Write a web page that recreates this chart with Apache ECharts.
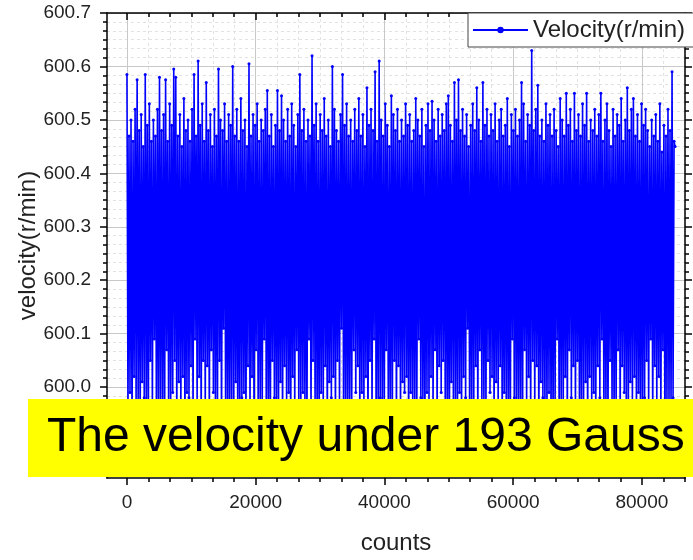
<!DOCTYPE html>
<html>
<head>
<meta charset="utf-8">
<script src="https://cdn.jsdelivr.net/npm/echarts@6/dist/echarts.min.js"></script>
<style>
  html, body { margin: 0; padding: 0; background: #fff; }
  #chart { width: 693px; height: 560px; }
</style>
</head>
<body>
<div id="chart"></div>
<script>
// counts axis
const X_MIN = -3100;
const X_MAX = 86700;
const X_TICKS = [0, 20000, 40000, 60000, 80000];
const COUNT_STEP = 158; // counts between two plotted samples

// velocity axis
const Y_MIN = 599.83;
const Y_MAX = 600.7;
const Y_TICKS = [599.9, 600.0, 600.1, 600.2, 600.3, 600.4, 600.5, 600.6, 600.7];
const MINOR_SPLIT = 6;

// velocity samples (r/min)
const VELOCITY = [
  600.585, 599.95, 600.47, 599.99, 600.50, 599.92, 600.46, 600.02, 600.52, 599.97,
  600.575, 599.97, 600.48, 599.93, 600.51, 600.01, 600.45, 599.98, 600.585, 599.96,
  600.49, 599.91, 600.53, 600.05, 600.46, 599.96, 600.50, 600.09, 600.47, 599.94,
  600.52, 599.93, 600.58, 599.97, 600.48, 599.97, 600.51, 599.90, 600.575, 600.07,
  600.46, 599.95, 600.53, 599.96, 600.49, 599.99, 600.595, 600.05, 600.58, 599.93,
  600.47, 600.01, 600.51, 599.96, 600.45, 600.02, 600.54, 599.92, 600.48, 599.99,
  600.50, 599.98, 600.46, 600.04, 600.52, 599.94, 600.585, 600.09, 600.47, 599.97,
  600.61, 600.02, 600.49, 599.91, 600.53, 600.05, 600.46, 599.96, 600.57, 600.04,
  600.48, 599.93, 600.51, 600.07, 600.45, 599.99, 600.52, 599.96, 600.47, 599.95,
  600.595, 600.05, 600.50, 599.92, 600.48, 600.11, 600.53, 599.97, 600.46, 599.93,
  600.51, 599.94, 600.49, 599.97, 600.60, 599.96, 600.47, 600.01, 600.52, 599.90,
  600.46, 599.96, 600.54, 599.98, 600.48, 599.99, 600.50, 599.93, 600.45, 600.04,
  600.605, 599.95, 600.47, 600.02, 600.51, 599.91, 600.49, 600.07, 600.53, 599.97,
  600.46, 599.97, 600.50, 599.94, 600.48, 600.09, 600.52, 599.96, 600.555, 599.93,
  600.47, 599.92, 600.51, 600.05, 600.45, 599.98, 600.49, 599.96, 600.555, 599.95,
  600.48, 600.01, 600.545, 599.93, 600.50, 600.04, 600.46, 599.97, 600.52, 599.99,
  600.47, 599.90, 600.53, 600.02, 600.49, 599.96, 600.45, 600.07, 600.51, 599.94,
  600.585, 599.97, 600.48, 599.99, 600.52, 599.96, 600.46, 599.92, 600.50, 600.09,
  600.47, 599.95, 600.62, 600.05, 600.49, 599.97, 600.53, 599.93, 600.46, 599.93,
  600.51, 599.99, 600.48, 599.96, 600.54, 600.04, 600.47, 599.91, 600.50, 600.01,
  600.45, 599.98, 600.60, 600.02, 600.52, 599.94, 600.48, 600.05, 600.46, 599.97,
  600.51, 600.11, 600.585, 599.95, 600.49, 599.96, 600.53, 599.92, 600.47, 599.97,
  600.50, 599.96, 600.46, 600.07, 600.52, 599.99, 600.48, 600.04, 600.54, 599.93,
  600.47, 599.99, 600.51, 599.97, 600.45, 600.02, 600.56, 599.90, 600.49, 600.05,
  600.52, 599.95, 600.48, 600.09, 600.59, 599.94, 600.46, 599.96, 600.61, 599.98,
  600.50, 599.97, 600.47, 599.92, 600.53, 600.07, 600.49, 599.96, 600.45, 599.93,
  600.545, 599.97, 600.51, 600.05, 600.48, 599.93, 600.52, 600.04, 600.46, 599.95,
  600.50, 600.01, 600.47, 599.99, 600.53, 600.02, 600.49, 599.91, 600.51, 599.99,
  600.46, 599.96, 600.48, 599.96, 600.54, 599.94, 600.50, 600.09, 600.47, 599.98,
  600.52, 599.97, 600.45, 599.92, 600.49, 599.99, 600.53, 599.97, 600.48, 600.02,
  600.535, 599.95, 600.50, 600.07, 600.46, 599.93, 600.52, 600.04, 600.47, 599.99,
  600.51, 600.05, 600.48, 599.96, 600.53, 599.93, 600.545, 599.90, 600.49, 600.01,
  600.46, 599.97, 600.57, 599.96, 600.50, 599.94, 600.575, 599.99, 600.48, 599.95,
  600.52, 600.02, 600.47, 599.98, 600.51, 600.11, 600.45, 599.93, 600.49, 599.97,
  600.53, 599.96, 600.48, 600.04, 600.56, 599.92, 600.50, 600.07, 600.46, 599.97,
  600.57, 599.96, 600.49, 599.95, 600.52, 600.05, 600.47, 599.99, 600.51, 600.02,
  600.48, 599.94, 600.53, 600.01, 600.46, 599.97, 600.50, 600.04, 600.52, 599.91,
  600.47, 599.99, 600.49, 599.96, 600.54, 599.93, 600.45, 599.93, 600.51, 600.09,
  600.48, 599.98, 600.52, 599.97, 600.47, 599.95, 600.50, 599.96, 600.57, 599.92,
  600.53, 600.07, 600.46, 599.97, 600.51, 600.02, 600.49, 599.94, 600.63, 600.05,
  600.48, 599.96, 600.52, 600.04, 600.565, 599.91, 600.47, 600.01, 600.50, 599.98,
  600.46, 599.96, 600.53, 599.95, 600.49, 599.99, 600.51, 599.93, 600.47, 599.93,
  600.52, 599.97, 600.48, 600.09, 600.45, 599.94, 600.54, 599.97, 600.50, 599.96,
  600.47, 600.02, 600.55, 599.92, 600.49, 600.07, 600.52, 599.98, 600.46, 600.04,
  600.55, 599.95, 600.48, 600.05, 600.51, 599.93, 600.47, 599.96, 600.53, 599.97,
  600.49, 600.01, 600.55, 599.91, 600.46, 600.02, 600.50, 599.96, 600.48, 599.99,
  600.52, 599.94, 600.47, 600.04, 600.51, 599.98, 600.55, 600.09, 600.46, 599.95,
  600.50, 599.96, 600.53, 599.92, 600.48, 600.05, 600.45, 599.97, 600.52, 599.93,
  600.47, 599.96, 600.51, 600.07, 600.49, 599.93, 600.54, 600.04, 600.46, 599.99,
  600.50, 599.97, 600.56, 599.94, 600.48, 600.01, 600.52, 599.97, 600.54, 600.02,
  600.47, 599.95, 600.51, 599.99, 600.46, 599.92, 600.53, 599.96, 600.49, 599.98,
  600.52, 600.05, 600.48, 599.96, 600.45, 600.09, 600.50, 599.93, 600.47, 600.04,
  600.51, 599.97, 600.46, 600.02, 600.53, 599.95, 600.44, 600.07, 600.49, 599.91,
  600.47, 599.97, 600.52, 599.96, 600.48, 599.96, 600.59, 599.98, 600.46, 600.45
];

const FONT = 'Liberation Sans, Arial, sans-serif';
const BLUE = '#0000ff';

// minor tick positions between (and around) the major ones
function minorValues(ticks, min, max) {
  const step = (ticks[1] - ticks[0]) / MINOR_SPLIT;
  const out = [];
  for (let k = -MINOR_SPLIT * 2; k <= ticks.length * MINOR_SPLIT + MINOR_SPLIT; k++) {
    if (k % MINOR_SPLIT === 0) continue;
    const v = ticks[0] + k * step;
    if (v >= min - 1e-9 && v <= max + 1e-9) out.push(+v.toFixed(6));
  }
  return out;
}
const X_MINOR = minorValues(X_TICKS, X_MIN, X_MAX);
const Y_MINOR = minorValues(Y_TICKS, Y_MIN, Y_MAX);

const lineBlack = { color: '#000', width: 1.5 };

function makeAxis(position, min, max, ticks, len, inside, withLine, split, label) {
  return {
    type: 'value',
    position: position,
    min: min,
    max: max,
    axisLine: { show: withLine, onZero: false, lineStyle: lineBlack },
    axisTick: { show: true, customValues: ticks, length: len, inside: inside, lineStyle: lineBlack },
    axisLabel: label || { show: false },
    splitLine: split || { show: false },
    minorTick: { show: false }
  };
}

const majorSplit = { show: true, lineStyle: { color: '#c8c8c8', width: 1 } };
const minorSplit = { show: true, lineStyle: { color: '#e2e2e2', width: 1, type: [3, 3] } };

const xBottom = makeAxis('bottom', X_MIN, X_MAX, X_TICKS, 7, false, true, majorSplit, {
  show: true, customValues: X_TICKS, margin: 15, fontSize: 19, color: '#222', fontFamily: FONT,
  formatter: function (v) { return String(Math.round(v)); }
});
xBottom.name = 'counts';
xBottom.nameLocation = 'middle';
xBottom.nameGap = 53;
xBottom.nameMoveOverlap = false;
xBottom.nameTextStyle = { fontSize: 24, color: '#222', fontFamily: FONT };

const yLeft = makeAxis('left', Y_MIN, Y_MAX, Y_TICKS, 7, false, true, majorSplit, {
  show: true, customValues: Y_TICKS, margin: 16, fontSize: 19, color: '#222', fontFamily: FONT,
  formatter: function (v) { return Number(v).toFixed(1); }
});
yLeft.name = 'velocity(r/min)';
yLeft.nameLocation = 'middle';
yLeft.nameGap = 67;
yLeft.nameMoveOverlap = false;
yLeft.nameTextStyle = { fontSize: 24, color: '#222', fontFamily: FONT };

const chart = echarts.init(document.getElementById('chart'), null, { renderer: 'canvas' });

chart.setOption({
  animation: false,
  backgroundColor: '#fff',
  grid: { left: 107, right: 8, top: 13, bottom: 74, containLabel: false },
  legend: {
    left: 468,
    top: 13,
    padding: [5, 14, 5, 4],
    itemWidth: 55,
    itemHeight: 8,
    backgroundColor: '#fff',
    borderColor: '#444',
    borderWidth: 1,
    textStyle: { fontSize: 24, color: '#222', fontFamily: FONT },
    z: 20
  },
  xAxis: [
    xBottom,
    makeAxis('bottom', X_MIN, X_MAX, X_MINOR, 4, false, false, minorSplit),
    makeAxis('top', X_MIN, X_MAX, X_TICKS, 7, true, true),
    makeAxis('top', X_MIN, X_MAX, X_MINOR, 4, true, false)
  ],
  yAxis: [
    yLeft,
    makeAxis('left', Y_MIN, Y_MAX, Y_MINOR, 4, false, false, minorSplit),
    makeAxis('right', Y_MIN, Y_MAX, Y_TICKS, 7, false, true),
    makeAxis('right', Y_MIN, Y_MAX, Y_MINOR, 4, false, false)
  ],
  series: [{
    type: 'line',
    name: 'Velocity(r/min)',
    data: VELOCITY.map(function (v, i) { return [i * COUNT_STEP, v]; }),
    symbol: 'circle',
    symbolSize: 3,
    lineStyle: { color: BLUE, width: 1.6 },
    itemStyle: { color: BLUE },
    z: 2
  }],
  graphic: [{
    type: 'rect',
    z: 100,
    shape: { x: 28, y: 399, width: 670, height: 78 },
    style: { fill: '#ffff00' }
  }, {
    type: 'text',
    z: 101,
    x: 47,
    y: 438,
    style: {
      text: 'The velocity under 193 Gauss',
      fill: '#000',
      font: '48px ' + FONT,
      verticalAlign: 'middle'
    }
  }]
});
</script>
</body>
</html>
